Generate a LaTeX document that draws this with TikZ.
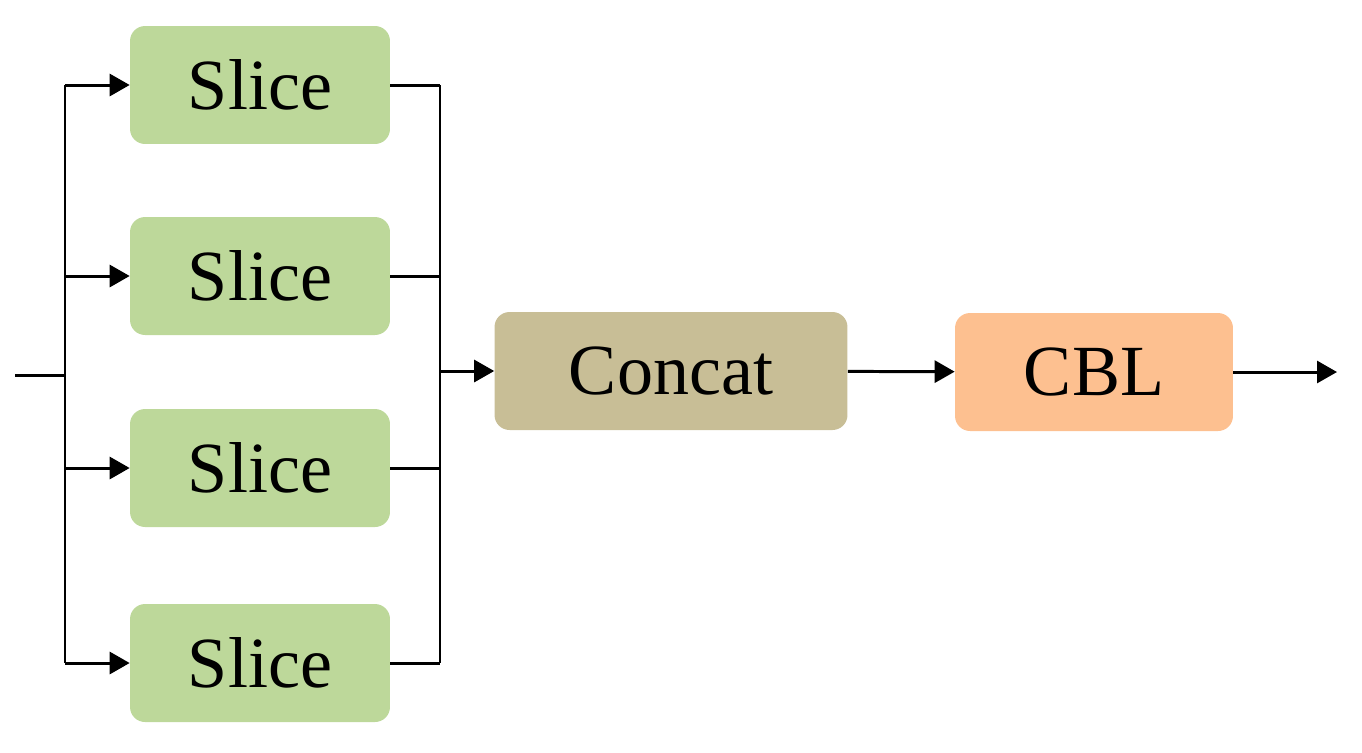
\documentclass[tikz,border=0pt]{standalone}
\usepackage{fontspec}
\setmainfont{Liberation Serif}
\usetikzlibrary{arrows.meta, positioning}
\definecolor{slicegreen}{HTML}{BDD89A}
\definecolor{concatbrown}{HTML}{C8BE96}
\definecolor{cblorange}{HTML}{FDC090}
\begin{document}
\begin{tikzpicture}[
      x=0.02cm, y=-0.02cm,
      box/.style={
          rectangle,
          rounded corners=3mm,
          align=center,
          minimum height=2.36cm,
          font=\fontsize{41}{45}\selectfont
        },
      slice/.style={
          box,
          minimum width=5.2cm,
          fill=slicegreen
        },
      arrow/.style={
          -{Triangle[length=4mm,width=4.4mm]},
          line width=1.7pt
        },
      line/.style={
          line width=1.7pt
        }
    ]
    \useasboundingbox (0,0) rectangle (1362,752);

    % Nodes
    \node[slice] (s1) at (260,85) {Slice};
    \node[slice] (s2) at (260,276) {Slice};
    \node[slice] (s3) at (260,468) {Slice};
    \node[slice] (s4) at (260,663) {Slice};
    \node[box, minimum width=7.06cm, fill=concatbrown] (concat) at (671,371) {Concat};
    \node[box, minimum width=5.56cm, fill=cblorange] (cbl) at (1094,372) {CBL};
    \coordinate (in) at (15,375);
    \coordinate (split) at (65,375);
    \coordinate (merge) at (440,371);
    \coordinate (out) at (1337,372);

    % Arrows
    \draw[line] (in) -- (split);
    \draw[line] (s1.west -| split) -- (s4.west -| split);
    \foreach \s in {s1,s2,s3,s4}
      \draw[arrow] (\s.west -| split) -- (\s.west);
    \foreach \s in {s1,s2,s3,s4}
      \draw[line] (\s.east) -- (\s.east -| merge);
    \draw[line] (s1.east -| merge) -- (s4.east -| merge);
    \draw[arrow] (merge) -- (concat);
    \draw[arrow] (concat) -- (cbl);
    \draw[arrow] (cbl) -- (out);

  \end{tikzpicture}
\end{document}
